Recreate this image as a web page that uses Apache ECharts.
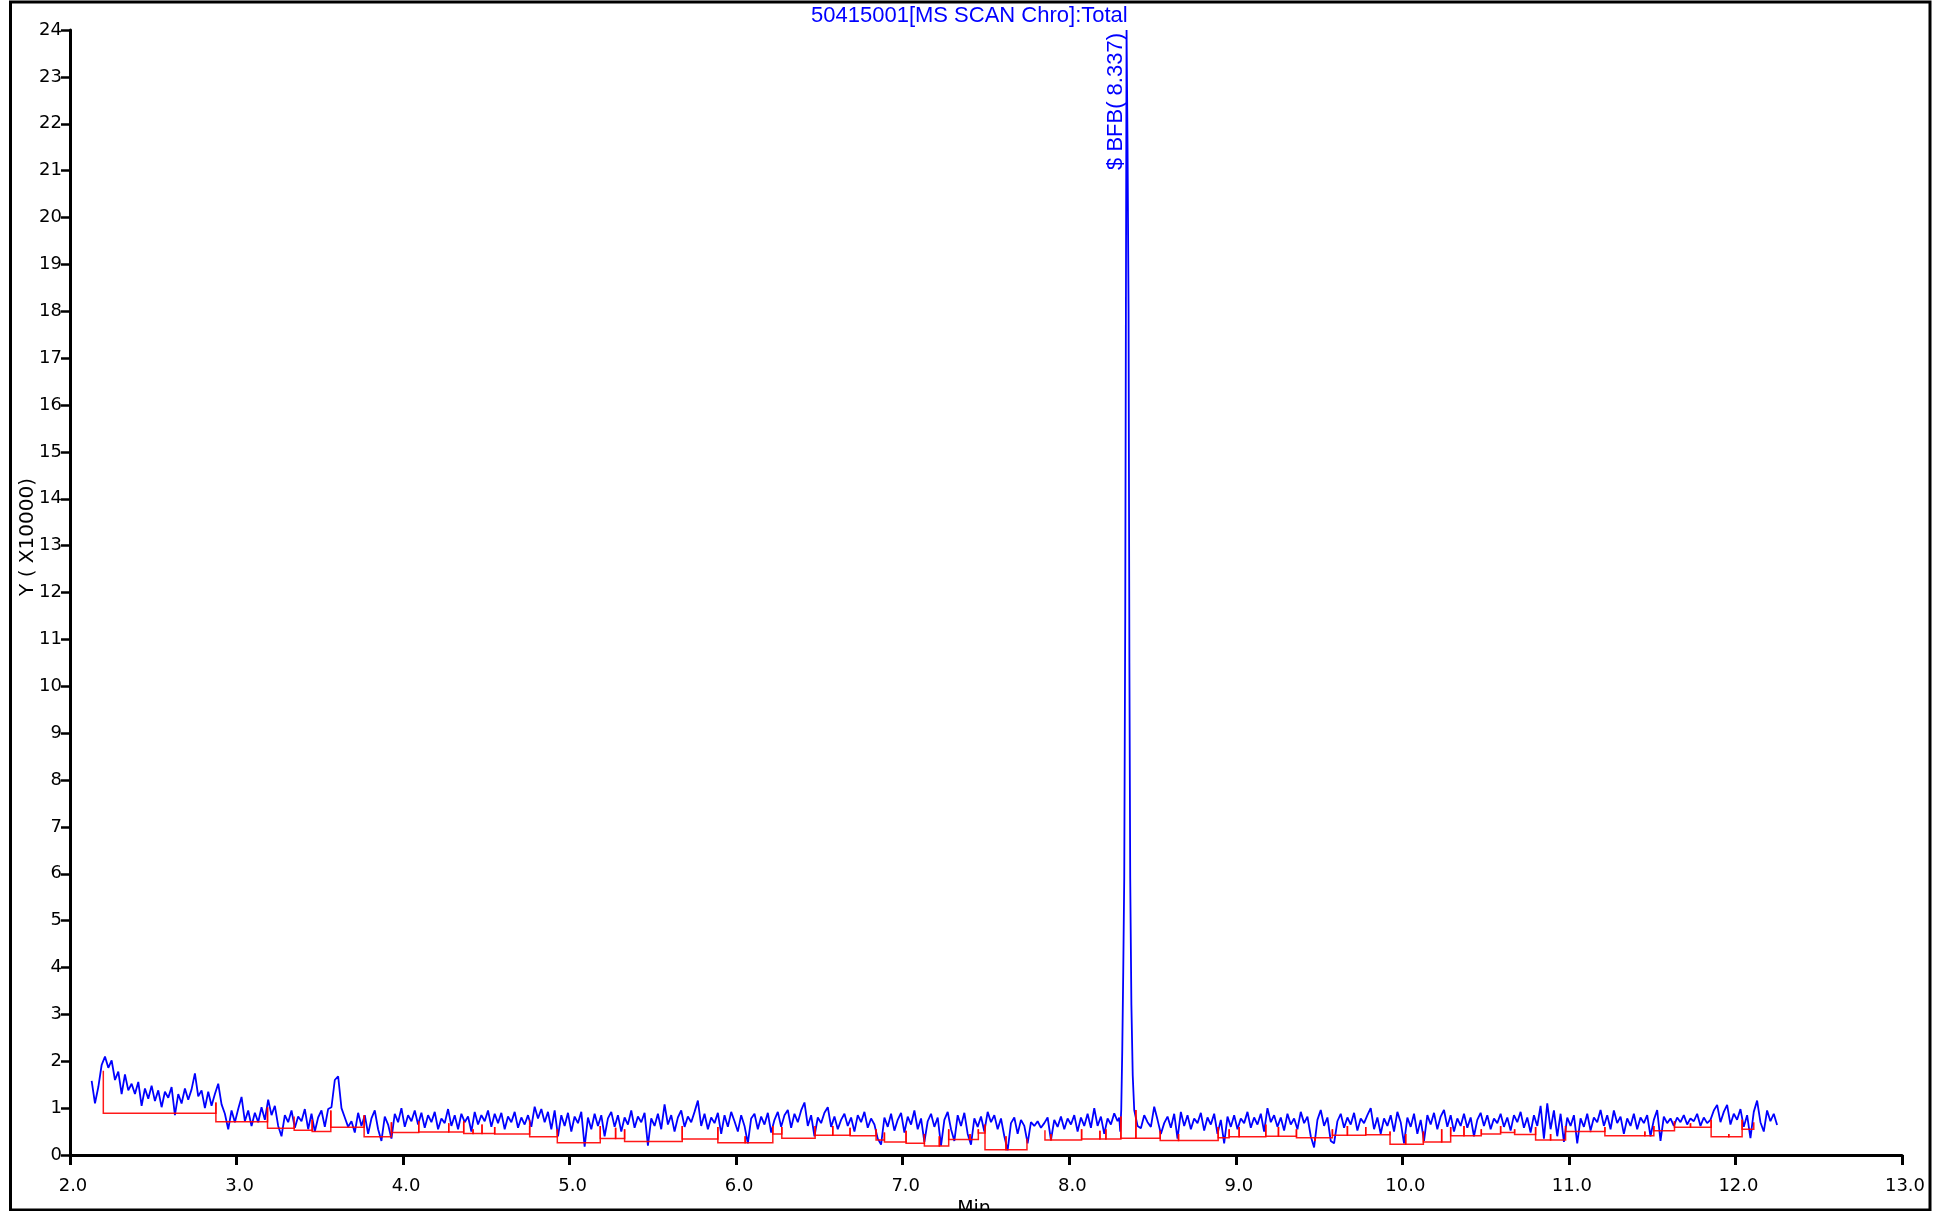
<!DOCTYPE html>
<html>
<head>
<meta charset="utf-8">
<script src="https://cdn.jsdelivr.net/npm/echarts@6/dist/echarts.min.js"></script>
<style>
html,body{margin:0;padding:0;background:#fff;overflow:hidden;}
#chart{width:1948px;height:1211px;}
</style>
</head>
<body>
<div id="chart"></div>
<script>
// ---- data (intensity in units of 10000, time in minutes) ----
const chartTitle = '50415001[MS SCAN Chro]:Total';
const peakLabel = '$ BFB( 8.337)';
const yAxisName = 'Y ( X10000)';
const xAxisName = 'Min';
const xMin = 2, xMax = 13, xStep = 1;
const yMin = 0, yMax = 24, yStep = 1;

const scanStep = 0.02;
const traceAStart = 2.13;
const traceA = [
1.58,1.10,1.45,1.92,2.10,1.86,2.02,1.60,1.78,1.30,
1.72,1.38,1.52,1.30,1.56,1.05,1.42,1.20,1.48,1.15,
1.38,1.02,1.35,1.22,1.45,0.85,1.30,1.10,1.42,1.18,
1.40,1.74,1.25,1.38,1.00,1.35,1.05,1.30,1.52,1.08,
0.88,0.55,0.95,0.70,0.98,1.24,0.72,0.95,0.62,0.90,
0.70,1.02,0.75,1.18,0.85,1.05,0.62,0.40,0.85,0.70,
0.95,0.58,0.82,0.72,0.98,0.55,0.88,0.50,0.80,0.95,
0.60,0.98,1.02,1.60,1.68,1.00,0.80,0.60,0.72,0.48,
0.90,0.62,0.85,0.45,0.78,0.95,0.55,0.30,0.82,0.65,
0.35,0.88,0.70,1.00,0.60,0.85,0.72,0.95,0.65,0.90,
0.58,0.85,0.70,0.92,0.55,0.78,0.68,0.98,0.62,0.85,
0.55,0.88,0.70,0.82,0.50,0.92,0.65,0.85,0.72,0.95,
0.60,0.88,0.68,0.90,0.55,0.82,0.70,0.92,0.58,0.80,
0.65,0.85,0.60,1.03,0.78,0.98,0.70,0.92,0.55,0.95,
0.40,0.85,0.62,0.90,0.50,0.82,0.68,0.92,0.18,0.80,
0.55,0.88,0.62,0.85,0.40,0.78,0.92,0.60,0.85,0.50,
0.80,0.65,0.95,0.58,0.82,0.70,0.90,0.20,0.78,0.62,
0.88,0.55,1.08,0.65,0.85,0.50,0.80,0.95,0.60,0.82,
0.70,0.92,1.16,0.62,0.88,0.55,0.80,0.68,0.90,0.45,
0.85,0.60,0.92,0.72,0.50,0.85,0.62,0.25,0.78,0.88,
0.55,0.82,0.65,0.90,0.48,0.75,0.92,0.60,0.85,0.96,
0.58,0.88,0.70,0.95,1.12,0.62,0.85,0.40,0.80,0.68,
0.90,1.02,0.60,0.82,0.55,0.75,0.88,0.62,0.80,0.50,
0.85,0.70,0.92,0.58,0.78,0.65,0.35,0.22,0.80,0.60,
0.88,0.52,0.75,0.90,0.48,0.82,0.65,0.95,0.55,0.78,
0.28,0.72,0.88,0.60,0.80,0.20,0.75,0.92,0.55,0.30,
0.85,0.62,0.90,0.45,0.22,0.78,0.60,0.82,0.50,0.92,
0.70,0.85,0.55,0.78,0.40,0.10,0.68,0.80,0.45,0.75,
0.62,0.25,0.70,0.62,0.72,0.58,0.68,0.80,0.32,0.75,
0.60,0.82,0.55,0.78,0.65,0.85,0.50,0.80,0.62,0.88,
0.58,1.00,0.62,0.82,0.45,0.78,0.65,0.89,0.72
];
const peakTimes  = [8.300,8.306,8.312,8.318,8.324,8.330,8.336,8.340,8.344,8.350,8.356,8.361,8.366,8.373,8.381,8.390,8.397];
const peakValues = [0.80, 0.50, 0.96, 2.20, 3.90, 5.90, 11.5, 18.0, 24.0, 21.5, 18.0, 10.5, 5.90, 3.20, 1.70, 0.96, 0.92];
const traceBStart = 8.41;
const traceB = [
0.62,0.57,0.85,0.70,0.60,1.03,0.75,0.45,0.68,0.82,
0.58,0.88,0.35,0.92,0.62,0.85,0.55,0.78,0.68,0.90,
0.52,0.80,0.65,0.88,0.45,0.75,0.25,0.82,0.60,0.85,
0.55,0.78,0.68,0.92,0.58,0.80,0.65,0.88,0.50,1.00,
0.70,0.85,0.60,0.80,0.52,0.88,0.65,0.78,0.55,0.92,
0.68,0.82,0.40,0.16,0.75,0.96,0.62,0.80,0.30,0.25,
0.72,0.88,0.58,0.80,0.65,0.90,0.52,0.78,0.68,0.85,
1.00,0.55,0.80,0.45,0.78,0.62,0.85,0.50,0.92,0.70,
0.25,0.80,0.60,0.88,0.45,0.75,0.30,0.85,0.65,0.90,
0.55,0.82,0.96,0.60,0.85,0.50,0.78,0.62,0.88,0.58,
0.80,0.40,0.75,0.90,0.62,0.85,0.55,0.78,0.68,0.88,
0.60,0.80,0.52,0.85,0.70,0.92,0.58,0.80,0.48,0.85,
0.62,1.05,0.35,1.10,0.55,0.95,0.40,0.88,0.28,0.80,
0.62,0.85,0.25,0.78,0.60,0.88,0.52,0.80,0.70,0.96,
0.62,0.85,0.55,0.95,0.68,0.82,0.45,0.78,0.62,0.88,
0.55,0.80,0.68,0.85,0.40,0.75,0.96,0.30,0.82,0.68,
0.78,0.62,0.80,0.70,0.85,0.65,0.78,0.72,0.88,0.62,
0.80,0.68,0.75,0.95,1.07,0.70,0.92,1.07,0.65,0.88,
0.75,0.98,0.60,0.85,0.36,0.92,1.16,0.70,0.50,0.95,
0.72,0.88,0.64
];
// integration baselines: [start, end, baseline level, drop-line top at start, drop-line top at end]
const baselineSegments = [
[2.200,2.876,0.89,1.80,1.12],[2.876,3.186,0.71,1.12,1.02],[3.186,3.346,0.57,1.02,0.62],
[3.346,3.454,0.53,0.82,0.75],[3.454,3.566,0.50,0.75,0.95],[3.566,3.766,0.59,0.95,0.85],
[3.766,3.930,0.39,0.85,0.70],[3.930,4.094,0.48,0.70,0.72],[4.094,4.274,0.49,0.72,0.68],
[4.274,4.364,0.49,0.68,0.72],[4.364,4.420,0.46,0.72,0.55],[4.420,4.474,0.46,0.55,0.65],
[4.474,4.550,0.46,0.65,0.60],[4.550,4.760,0.45,0.60,0.62],[4.760,4.926,0.39,0.75,0.55],
[4.926,5.184,0.26,0.55,0.62],[5.184,5.276,0.35,0.62,0.58],[5.276,5.330,0.35,0.58,0.55],
[5.330,5.676,0.29,0.55,0.62],[5.676,5.890,0.34,0.62,0.60],[5.890,6.054,0.26,0.60,0.40],
[6.054,6.220,0.26,0.40,0.62],[6.220,6.274,0.45,0.62,0.60],[6.274,6.474,0.36,0.60,0.62],
[6.474,6.580,0.42,0.62,0.62],[6.580,6.684,0.42,0.62,0.58],[6.684,6.840,0.41,0.58,0.55],
[6.840,6.890,0.32,0.55,0.48],[6.890,7.020,0.28,0.48,0.52],[7.020,7.130,0.25,0.52,0.45],
[7.130,7.220,0.19,0.45,0.40],[7.220,7.276,0.19,0.40,0.55],[7.276,7.404,0.33,0.55,0.45],
[7.404,7.454,0.33,0.45,0.55],[7.454,7.494,0.47,0.55,0.65],[7.494,7.620,0.11,0.65,0.40],
[7.620,7.746,0.11,0.40,0.35],[7.854,7.890,0.32,0.53,0.45],[7.890,8.074,0.32,0.45,0.55],
[8.074,8.184,0.34,0.55,0.52],[8.184,8.220,0.34,0.52,0.55],[8.220,8.310,0.34,0.55,0.82],
[8.310,8.400,0.36,0.82,0.96],[8.400,8.546,0.36,0.96,0.52],[8.546,8.656,0.31,0.52,0.45],
[8.656,8.894,0.31,0.45,0.60],[8.894,8.960,0.37,0.60,0.55],[8.960,9.020,0.39,0.55,0.60],
[9.020,9.180,0.39,0.60,0.65],[9.180,9.256,0.40,0.65,0.60],[9.256,9.364,0.40,0.60,0.55],
[9.364,9.476,0.37,0.55,0.30],[9.476,9.580,0.37,0.30,0.55],[9.580,9.670,0.42,0.55,0.62],
[9.670,9.780,0.42,0.62,0.60],[9.780,9.926,0.43,0.60,0.50],[9.926,10.020,0.23,0.50,0.45],
[10.020,10.126,0.23,0.45,0.50],[10.126,10.236,0.28,0.50,0.55],[10.236,10.290,0.28,0.55,0.60],
[10.290,10.370,0.41,0.60,0.62],[10.370,10.474,0.41,0.62,0.55],[10.474,10.590,0.45,0.55,0.62],
[10.590,10.674,0.48,0.62,0.55],[10.674,10.800,0.44,0.55,0.60],[10.800,10.890,0.32,0.60,0.45],
[10.890,10.980,0.32,0.45,0.62],[10.980,11.130,0.50,0.62,0.52],[11.130,11.216,0.50,0.52,0.60],
[11.216,11.456,0.41,0.60,0.50],[11.456,11.510,0.41,0.50,0.62],[11.510,11.634,0.52,0.62,0.72],
[11.634,11.730,0.59,0.72,0.68],[11.730,11.854,0.59,0.68,0.75],[11.854,11.960,0.39,0.75,0.45],
[11.960,12.040,0.39,0.45,0.75],[12.040,12.110,0.55,0.75,0.70]
];
const peakApex = [8.344, 24.0];

// ---- build series data ----
const tracePoints = [];
traceA.forEach((v, i) => tracePoints.push([+(traceAStart + i * scanStep).toFixed(3), v]));
peakTimes.forEach((t, i) => tracePoints.push([t, peakValues[i]]));
traceB.forEach((v, i) => tracePoints.push([+(traceBStart + i * scanStep).toFixed(3), v]));

const baselineLines = baselineSegments.map(s => ({
  coords: [[s[0], s[3]], [s[0], s[2]], [s[1], s[2]], [s[1], s[4]]]
}));

const axisFont = 'DejaVu Sans';
const chart = echarts.init(document.getElementById('chart'), null, {renderer: 'canvas'});
const option = {
  animation: false,
  backgroundColor: '#ffffff',
  title: {
    text: chartTitle, left: 811, top: 5, padding: 0,
    textStyle: {fontFamily: 'Liberation Sans', fontSize: 22, fontWeight: 'normal', color: '#0000ff'}
  },
  grid: {left: 70, top: 30, width: 1832, height: 1125, containLabel: false, outerBoundsMode: 'none'},
  xAxis: {
    type: 'value', min: xMin, max: xMax, interval: xStep,
    name: xAxisName, nameLocation: 'middle', nameGap: 36,
    nameTextStyle: {fontFamily: axisFont, fontSize: 19, color: '#000', padding: [0, 24, 0, 0]},
    axisLine: {show: true, onZero: false, lineStyle: {color: '#000', width: 3}},
    axisTick: {show: true, inside: false, length: 10, lineStyle: {color: '#000', width: 3}},
    axisLabel: {fontFamily: axisFont, fontSize: 18, color: '#000', margin: 22, padding: [0, 0, 0, 6],
      formatter: v => v.toFixed(1)},
    splitLine: {show: false}
  },
  yAxis: {
    type: 'value', min: yMin, max: yMax, interval: yStep,
    axisLine: {show: true, lineStyle: {color: '#000', width: 3}},
    axisTick: {show: true, inside: false, length: 9, lineStyle: {color: '#000', width: 2.5}},
    axisLabel: {fontFamily: axisFont, fontSize: 18, color: '#000', margin: 8, padding: [8, 0, 0, 0]},
    splitLine: {show: false}
  },
  series: [
    {
      type: 'line', name: 'TIC', data: tracePoints, showSymbol: false, symbol: 'none',
      sampling: null, lineStyle: {color: '#0000ff', width: 1.8}, z: 2
    },
    {
      type: 'lines', coordinateSystem: 'cartesian2d', polyline: true,
      data: baselineLines, lineStyle: {color: '#ff0000', width: 1.5, opacity: 0.9}, z: 3
    }
  ]
};
chart.setOption(option);

// texts anchored through the axes
const apexPx = chart.convertToPixel({xAxisIndex: 0, yAxisIndex: 0}, peakApex);
chart.setOption({
  graphic: [
    {type: 'rect', shape: {x: 10.5, y: 2, width: 1919.5, height: 1208}, style: {fill: 'none', stroke: '#000', lineWidth: 3}, silent: true, z: 10},
    {type: 'text', x: apexPx[0] - 11, y: apexPx[1] + 3, rotation: Math.PI / 2,
      style: {text: peakLabel, fontFamily: 'Liberation Sans', fontSize: 22, fill: '#0000ff', textAlign: 'right', textVerticalAlign: 'middle'}},
    {type: 'text', x: 28, y: 537, rotation: Math.PI / 2,
      style: {text: yAxisName, fontFamily: axisFont, fontSize: 20, fill: '#000', textAlign: 'center', textVerticalAlign: 'middle'}}
  ]
});
</script>
</body>
</html>
